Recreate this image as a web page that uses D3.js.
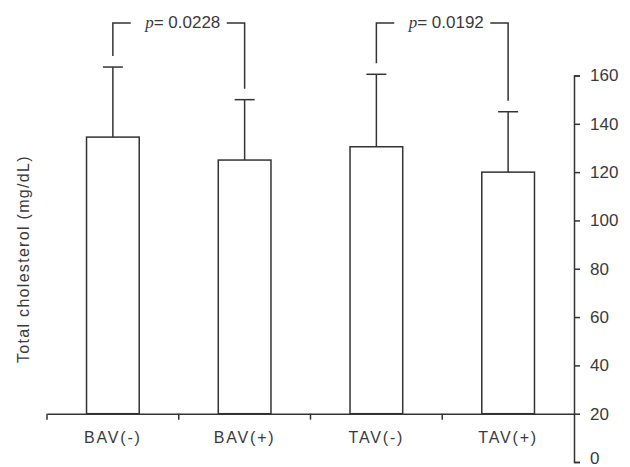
<!DOCTYPE html>
<html>
<head>
<meta charset="utf-8">
<script src="https://cdn.jsdelivr.net/npm/d3@7"></script>
<style>
  body { margin: 0; background: #fff; }
  text { font-family: "Liberation Sans", Arial, sans-serif; fill: #3a3a3a; }
</style>
</head>
<body>
<div id="chart"></div>
<script>
var width = 630;
var height = 467;

// data
var categories = ["BAV(-)", "BAV(+)", "TAV(-)", "TAV(+)"];
var means = [134.5, 125, 130.5, 120];
var sds = [29, 25, 30, 25];
var yTicks = [0, 20, 40, 60, 80, 100, 120, 140, 160];
var comparisons = [
    { from: "BAV(-)", to: "BAV(+)", label: "0.0228" },
    { from: "TAV(-)", to: "TAV(+)", label: "0.0192" }
];
var baseValue = 20; // bars and x axis sit at 20 on the scale

var svg = d3.select("#chart")
            .append("svg")
            .attr("width", width)
            .attr("height", height);

var x = d3.scaleBand()
          .domain(categories)
          .range([47, 574])
          .padding(0);

var y = d3.scaleLinear()
          .domain([0, 160])
          .range([462, 75.5]);

var barW = x.bandwidth() * 0.4;
var cx = function(c) { return x(c) + x.bandwidth() / 2; };
var ink = "#333";

// right y axis
var yAxis = d3.axisRight(y)
              .tickValues(yTicks)
              .tickSize(6)
              .tickSizeOuter(6)
              .tickPadding(10);
var gy = svg.append("g")
            .attr("transform", "translate(574,0)")
            .call(yAxis);
gy.selectAll("path, line").attr("stroke", ink).attr("stroke-width", 1.5);
gy.selectAll("text")
  .style("font-size", "17px")
  .attr("fill", "#3a3a3a")
  .attr("dy", d => d === 0 ? "0.1em" : "0.32em");

// bars
svg.selectAll(".bar")
   .data(categories)
   .enter()
   .append("rect")
   .attr("class", "bar")
   .attr("x", c => cx(c) - barW / 2)
   .attr("y", (c, i) => y(means[i]))
   .attr("width", barW)
   .attr("height", (c, i) => y(baseValue) - y(means[i]))
   .attr("fill", "white")
   .attr("stroke", ink)
   .attr("stroke-width", 1.5);

// error bars (upper only)
var capW = 20;
svg.selectAll(".err")
   .data(categories)
   .enter()
   .append("line")
   .attr("x1", c => cx(c))
   .attr("x2", c => cx(c))
   .attr("y1", (c, i) => y(means[i]))
   .attr("y2", (c, i) => y(means[i] + sds[i]))
   .attr("stroke", ink)
   .attr("stroke-width", 1.5);
svg.selectAll(".cap")
   .data(categories)
   .enter()
   .append("line")
   .attr("x1", c => cx(c) - capW / 2)
   .attr("x2", c => cx(c) + capW / 2)
   .attr("y1", (c, i) => y(means[i] + sds[i]))
   .attr("y2", (c, i) => y(means[i] + sds[i]))
   .attr("stroke", ink)
   .attr("stroke-width", 1.5);

// x axis
var xAxis = d3.axisBottom(x)
              .tickSize(0)
              .tickSizeOuter(0)
              .tickPadding(18);
var gx = svg.append("g")
            .attr("transform", "translate(0," + y(baseValue) + ")")
            .call(xAxis);
gx.select(".domain").attr("stroke", ink).attr("stroke-width", 1.5);
gx.selectAll("text")
  .style("font-size", "16px")
  .style("letter-spacing", "1.8px")
  .attr("fill", "#3a3a3a");
gx.selectAll(".bound")
  .data(categories)
  .enter()
  .append("line")
  .attr("x1", c => x(c))
  .attr("x2", c => x(c))
  .attr("y1", 0)
  .attr("y2", 6)
  .attr("stroke", ink)
  .attr("stroke-width", 1.5);

// y label
svg.append("text")
   .attr("transform", "translate(29," + y(84) + ") rotate(-90)")
   .attr("text-anchor", "middle")
   .style("font-size", "16px")
   .style("letter-spacing", "1.3px")
   .text("Total cholesterol (mg/dL)");

// significance brackets
var topY = 23;
var gap = 11;
var halfText = 48;
comparisons.forEach(function(cmp) {
    var i1 = categories.indexOf(cmp.from);
    var i2 = categories.indexOf(cmp.to);
    var x1 = cx(cmp.from), x2 = cx(cmp.to);
    var mid = (x1 + x2) / 2;
    var yl = y(means[i1] + sds[i1]) - gap;
    var yr = y(means[i2] + sds[i2]) - gap;
    svg.append("path")
       .attr("d", "M" + x1 + "," + yl + "V" + topY + "H" + (mid - halfText))
       .attr("fill", "none").attr("stroke", ink).attr("stroke-width", 1.5);
    svg.append("path")
       .attr("d", "M" + (mid + halfText) + "," + topY + "H" + x2 + "V" + yr)
       .attr("fill", "none").attr("stroke", ink).attr("stroke-width", 1.5);
    var t = svg.append("text")
       .attr("x", mid + 4)
       .attr("y", topY + 5)
       .attr("text-anchor", "middle")
       .style("font-size", "17px");
    t.append("tspan")
     .style("font-family", "'Liberation Serif', 'Times New Roman', serif")
     .style("font-style", "italic")
     .text("p");
    t.append("tspan").text("= " + cmp.label);
});
</script>
</body>
</html>
